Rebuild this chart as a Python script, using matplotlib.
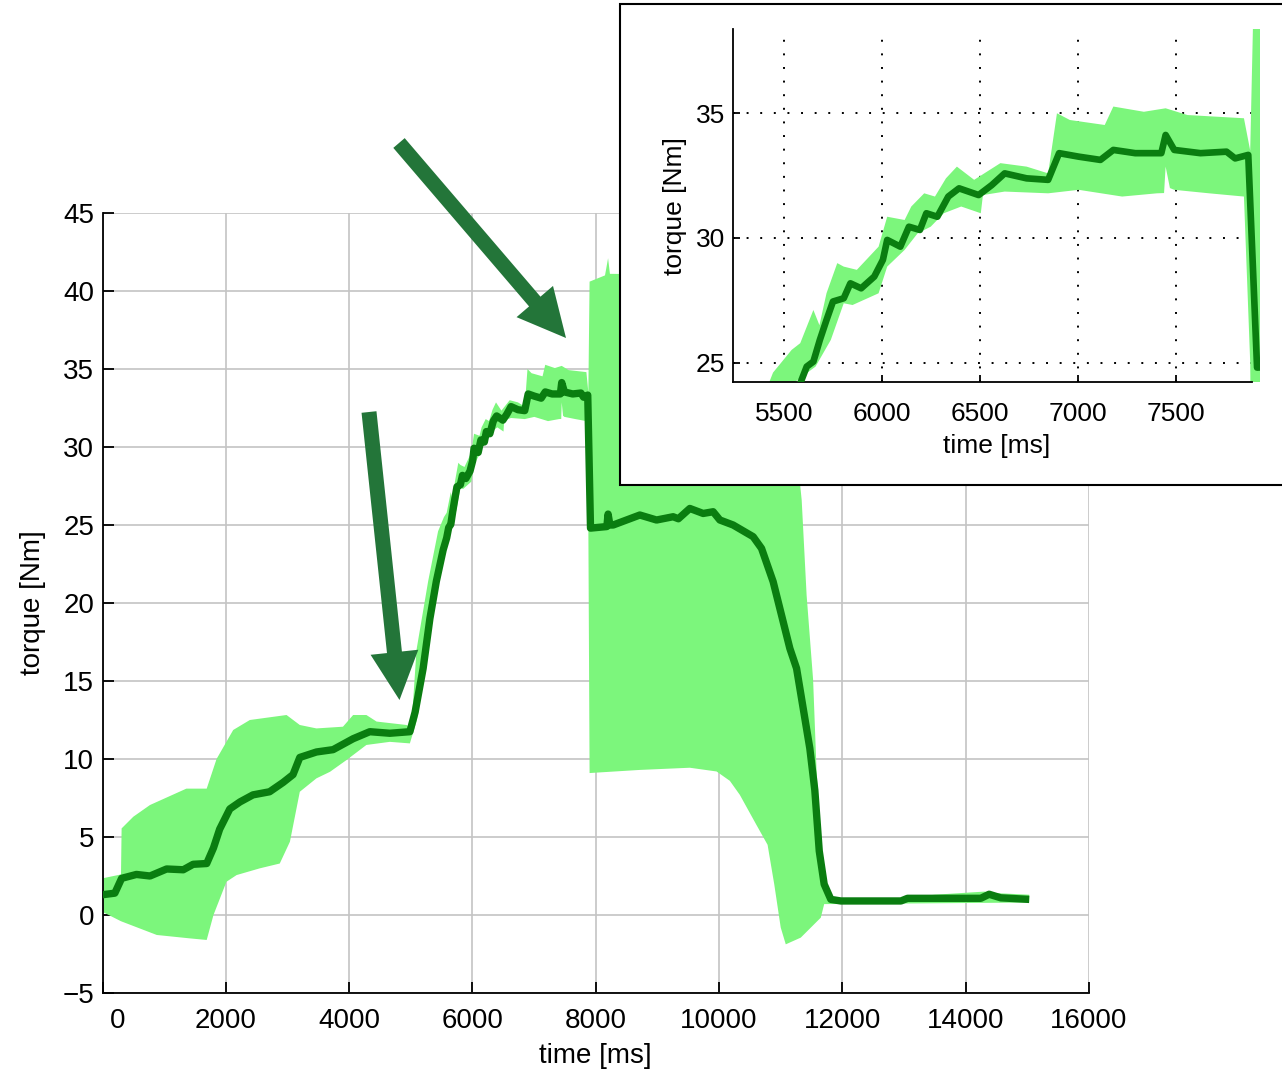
import numpy as np
import matplotlib
matplotlib.use("Agg")
import matplotlib.pyplot as plt
from matplotlib.patches import Rectangle, FancyArrow
from matplotlib.transforms import ScaledTranslation

plt.rcParams['font.family'] = ['Liberation Sans', 'DejaVu Sans']

# ---------------- data ----------------
mean_t = [0, 200, 310, 550, 770, 1040, 1310, 1470, 1690, 1800, 1900, 2065, 2230, 2440,
          2710, 2930, 3090, 3200, 3470, 3740, 4065, 4335, 4660, 4985, 5070, 5200, 5310,
          5415, 5525, 5582, 5615, 5649, 5682, 5716, 5749, 5804, 5838, 5893, 5960, 6004,
          6026, 6093, 6137, 6193, 6226, 6282, 6338, 6393, 6493, 6560, 6626, 6738, 6848,
          6904, 7004, 7115, 7181, 7293, 7426, 7448, 7492, 7626, 7759, 7803, 7870, 7915,
          8180, 8200, 8230, 8283, 8715, 8986, 9255, 9340, 9526, 9742, 9904, 10013, 10228,
          10553, 10689, 10877, 11148, 11257, 11472, 11553, 11625, 11705, 11813, 11975,
          12950, 13057, 14245, 14380, 14570, 15030]
mean_v = [1.3, 1.4, 2.35, 2.6, 2.5, 2.95, 2.9, 3.25, 3.3, 4.3, 5.5, 6.8, 7.25, 7.7,
          7.9, 8.5, 9.0, 10.1, 10.45, 10.6, 11.3, 11.75, 11.65, 11.75, 13.0, 15.8, 19.0,
          21.4, 23.4, 24.17, 24.84, 25.04, 25.91, 26.71, 27.45, 27.58, 28.18, 27.98, 28.45, 29.12,
          29.92, 29.65, 30.45, 30.32, 30.99, 30.85, 31.66, 31.99, 31.72, 32.12, 32.59, 32.39, 32.33,
          33.40, 33.26, 33.13, 33.53, 33.40, 33.40, 34.13, 33.53, 33.40, 33.46, 33.19, 33.33, 24.8,
          24.9, 25.7, 25.0, 25.0, 25.64, 25.32, 25.53, 25.4, 26.06, 25.74, 25.85, 25.32, 25.0,
          24.25, 23.5, 21.37, 17.09, 15.81, 10.68, 8.0, 4.1, 1.97, 1.0, 0.9,
          0.9, 1.07, 1.07, 1.33, 1.1, 1.0]

hi_t = [0, 300, 310, 500, 770, 1360, 1690, 1850, 2120, 2390, 2985, 3200, 3470, 3900,
        4065, 4280, 4445, 4930, 5010, 5093, 5282, 5443, 5538, 5582, 5649, 5680, 5716,
        5771, 5804, 5871, 5982, 6026, 6115, 6149, 6215, 6270, 6326, 6382, 6470, 6604,
        6738, 6848, 6893, 6959, 7137, 7181, 7337, 7448, 7559, 7848, 7880, 7900, 8150,
        8200, 8230, 10800, 11100, 11340, 11420, 11525, 11580, 11660, 11705, 11800, 12000,
        13000, 13500, 14300, 14500, 15030]
hi_v = [2.35, 2.6, 5.55, 6.3, 7.05, 8.1, 8.1, 10.0, 11.86, 12.5, 12.82, 12.18, 11.96, 12.07,
        12.82, 12.82, 12.4, 12.18, 12.0, 17.0, 21.4, 24.6, 25.51, 25.78, 27.11, 26.5, 27.78,
        28.99, 28.85, 28.72, 29.65, 30.85, 30.72, 31.26, 31.79, 31.66, 32.39, 32.86, 32.33, 33.0,
        32.86, 32.59, 35.0, 34.73, 34.53, 35.27, 35.06, 35.2, 34.93, 34.8, 33.5, 40.6, 41.0,
        42.1, 41.1, 41.0, 36.0, 26.6, 20.5, 15.1, 9.4, 4.1, 1.5, 1.2, 1.0,
        1.1, 1.3, 1.5, 1.4, 1.3]

lo_t = [0, 300, 880, 1420, 1690, 1800, 2010, 2175, 2550, 2875, 3040, 3200, 3470, 3690,
        3960, 4280, 4660, 4985, 5100, 5300, 5450, 5516, 5660, 5738, 5804, 5849, 5982,
        6026, 6115, 6182, 6248, 6315, 6404, 6504, 6515, 6626, 6848, 7004, 7226, 7404,
        7440, 7448, 7470, 7492, 7670, 7848, 7880, 7900, 8715, 9526, 9960, 10175, 10337,
        10607, 10787, 10895, 11000, 11082, 11325, 11650, 11705, 11800, 15030]
lo_v = [0.2, -0.4, -1.28, -1.5, -1.6, 0.0, 2.13, 2.56, 2.99, 3.3, 4.7, 7.9, 8.76, 9.18,
        9.94, 10.9, 11.1, 11.0, 12.5, 17.5, 21.5, 24.0, 24.84, 25.91, 27.38, 27.31, 27.78,
        28.85, 29.52, 30.19, 30.45, 30.99, 31.26, 30.99, 31.72, 31.86, 31.79, 31.93, 31.66, 31.79,
        31.8, 32.86, 32.0, 31.93, 31.79, 31.66, 25.0, 9.1, 9.3, 9.44, 9.2, 8.6, 7.7,
        5.77, 4.5, 1.97, -0.8, -1.88, -1.45, -0.17, 0.7, 0.7, 0.8]

main_xticks = [0, 2000, 4000, 6000, 8000, 10000, 12000, 14000, 16000]
main_yticks = [-5, 0, 5, 10, 15, 20, 25, 30, 35, 40, 45]
inset_xticks = [5500, 6000, 6500, 7000, 7500]
inset_yticks = [25, 30, 35]

x_label = "time [ms]"
y_label = "torque [Nm]"

# ---------------- style ----------------
fill_c = "#7cf67c"
line_c = "#0a7d10"
arrow_c = "#237539"
W, H = 1282, 1073

fig = plt.figure(figsize=(W / 100, H / 100), dpi=100)
fig.patch.set_facecolor("white")

poly_t = np.r_[hi_t, lo_t[::-1]]
poly_v = np.r_[hi_v, lo_v[::-1]]

# ---------------- main axes ----------------
ax = fig.add_axes([102.5 / W, 1 - 993 / H, (1089 - 102.5) / W, (993 - 213) / H], zorder=1)
ax.fill(poly_t, poly_v, color=fill_c, lw=0, zorder=2)
ax.plot(mean_t, mean_v, color=line_c, lw=5.3, solid_joinstyle="round",
        solid_capstyle="butt", zorder=3)
ax.set_xlim(0, 16000)
ax.set_ylim(-5, 45)
ax.set_xticks(main_xticks)
ax.set_yticks(main_yticks)
ax.grid(True, color="#c4c4c4", lw=1.2, ls="-")
ax.set_axisbelow(True)
for s in ("top", "right"):
    ax.spines[s].set_visible(False)
for s in ("left", "bottom"):
    ax.spines[s].set_linewidth(1.3)
ax.tick_params(axis="both", direction="in", length=8, width=1.3, labelsize=20, color="black")
ax.tick_params(axis="x", pad=11)
ax.tick_params(axis="y", pad=6)
ax.set_xlabel(x_label, fontsize=20, labelpad=6)
ax.set_ylabel(y_label, fontsize=20, labelpad=12)
ticks = ax.xaxis.get_major_ticks()
lab0 = ticks[0].label1
lab0.set_transform(lab0.get_transform() + ScaledTranslation(15 / 100, 0, fig.dpi_scale_trans))

# ---------------- overlay (box + arrows) ----------------
ov = fig.add_axes([0, 0, 1, 1], zorder=4)
ov.set_xlim(0, W)
ov.set_ylim(H, 0)
ov.set_axis_off()
ov.add_patch(Rectangle((620, 4), 700, 481, facecolor="white", edgecolor="black", lw=1.5))
ov.add_patch(FancyArrow(369, 412, 399.5 - 369, 700 - 412, width=15, head_width=48,
                        head_length=48, length_includes_head=True, color=arrow_c, lw=0))
ov.add_patch(FancyArrow(399, 143, 566 - 399, 338 - 143, width=15, head_width=48,
                        head_length=48, length_includes_head=True, color=arrow_c, lw=0))

# ---------------- inset ----------------
axi = fig.add_axes([733.3 / W, 1 - 382.3 / H, (1260 - 733.3) / W, (382.3 - 29) / H], zorder=5)
axi.patch.set_visible(False)
axi.fill(poly_t, poly_v, color=fill_c, lw=0, zorder=2)
axi.plot(mean_t, mean_v, color=line_c, lw=4.8, solid_joinstyle="round", zorder=3)
axi.set_xlim(5240, 7930)
axi.set_ylim(24.21, 38.38)
axi.set_xticks(inset_xticks)
axi.set_yticks(inset_yticks)
axi.grid(True, color="black", lw=1.4, ls=(0, (1, 6)))
axi.set_axisbelow(True)
for s in ("top", "right"):
    axi.spines[s].set_visible(False)
axi.spines["bottom"].set_bounds(5240, 7890)
for s in ("left", "bottom"):
    axi.spines[s].set_linewidth(1.3)
axi.tick_params(axis="both", direction="in", length=5, width=1.3, labelsize=19)
axi.tick_params(axis="x", pad=14)
axi.tick_params(axis="y", pad=6)
axi.set_xlabel(x_label, fontsize=19, labelpad=6)
axi.set_ylabel(y_label, fontsize=19, labelpad=6)

fig.savefig("out.png", dpi=100, facecolor="white")
